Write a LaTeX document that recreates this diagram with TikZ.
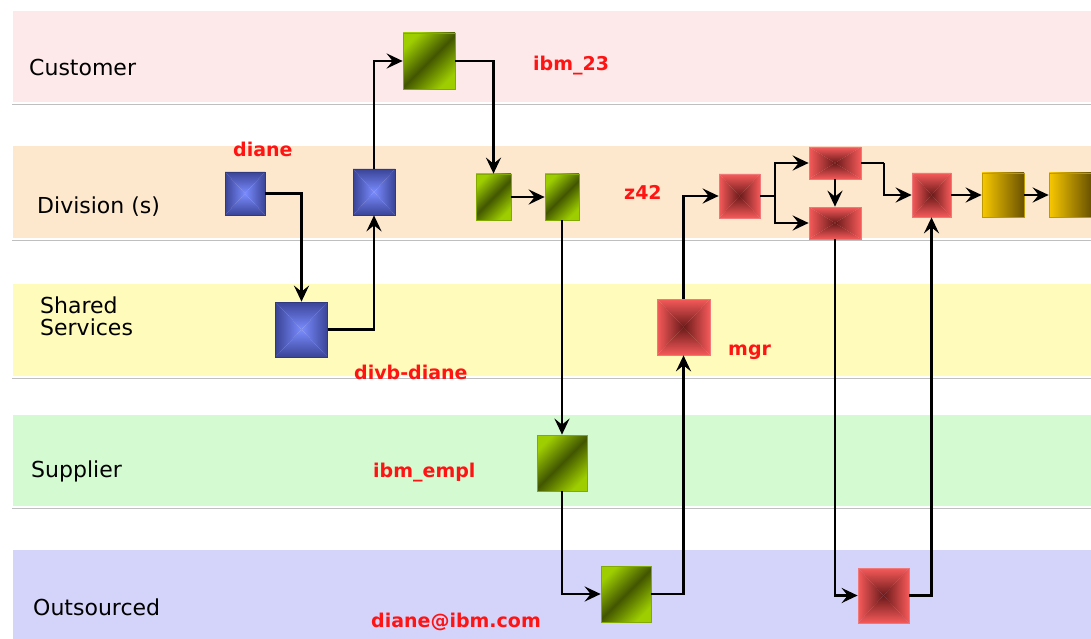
\documentclass[tikz,border=0pt]{standalone}
\usepackage{fontspec}
\setmainfont{DejaVu Sans}
\usetikzlibrary{arrows.meta,calc}
\definecolor{lcust}{RGB}{253,233,233}
\definecolor{ldiv}{RGB}{253,232,205}
\definecolor{lshar}{RGB}{255,252,187}
\definecolor{lsupp}{RGB}{212,250,210}
\definecolor{lout}{RGB}{212,212,250}
\definecolor{bin}{RGB}{122,140,255}
\definecolor{bout}{RGB}{58,68,150}
\definecolor{bbord}{RGB}{47,58,128}
\definecolor{rin}{RGB}{107,26,26}
\definecolor{rout}{RGB}{246,90,90}
\definecolor{rbord}{RGB}{240,120,120}
\definecolor{glt}{RGB}{158,206,0}
\definecolor{gdk}{RGB}{66,86,0}
\definecolor{gbord}{RGB}{130,170,0}
\definecolor{ylt}{RGB}{248,200,0}
\definecolor{ydk}{RGB}{106,82,0}
\definecolor{lblred}{RGB}{255,20,20}
\tikzset{
  lane/.style={fill=#1, draw=white, line width=1.2pt},
  laneedge/.style={draw=black!25, line width=0.8pt},
  lanelabel/.style={anchor=base west, inner sep=0pt, font=\fontsize{22}{21}\selectfont, align=left},
  redlabel/.style={anchor=base west, inner sep=0pt, text=lblred, font=\bfseries\fontsize{19}{20}\selectfont},
  pyr/.style 2 args={
    path picture={
      \coordinate (pc) at (path picture bounding box.center);
      \coordinate (psw) at (path picture bounding box.south west);
      \coordinate (pse) at (path picture bounding box.south east);
      \coordinate (pnw) at (path picture bounding box.north west);
      \coordinate (pne) at (path picture bounding box.north east);
      \shade[top color=#1, bottom color=#2] (psw) -- (pse) -- (pc) -- cycle;
      \shade[bottom color=#1, top color=#2] (pnw) -- (pne) -- (pc) -- cycle;
      \shade[right color=#1, left color=#2] (psw) -- (pnw) -- (pc) -- cycle;
      \shade[left color=#1, right color=#2] (pse) -- (pne) -- (pc) -- cycle;
    }},
  boxbase/.style={rectangle, inner sep=0pt, line width=0.7pt},
  bluebox/.style={boxbase, pyr={bin}{bout}, draw=bbord},
  redbox/.style={boxbase, pyr={rin}{rout}, draw=rbord},
  greenbox/.style={boxbase, draw=gbord, top color=glt, bottom color=glt, middle color=gdk, shading angle=45},
  goldbox/.style={boxbase, draw=ylt!60!ydk, left color=ylt, right color=ydk},
  conn/.style={line width=2.5pt, -{Stealth[length=16pt,width=15pt,inset=6pt]}},
  plain/.style={line width=2.5pt}
}
\begin{document}
\begin{tikzpicture}[x=1pt,y=-1pt]
\useasboundingbox (0,0) rectangle (1091,639);
\fill[white] (0,0) rectangle (1091,639);
% lanes
\path[lane=lcust] (12,10) rectangle (1100,103);
\path[laneedge] (12,104) -- (1100,104);
\path[lane=ldiv] (12,145) rectangle (1100,239);
\path[laneedge] (12,240) -- (1100,240);
\path[lane=lshar] (12,283) rectangle (1100,377);
\path[laneedge] (12,378) -- (1100,378);
\path[lane=lsupp] (12,414) rectangle (1100,507);
\path[laneedge] (12,508) -- (1100,508);
\path[lane=lout] (12,549) rectangle (1100,650);
% lane labels
\node[lanelabel] (tcust) at (29,76) {Customer};
\node[lanelabel] (tdiv) at (37,213) {Division (s)};
\node[lanelabel] (tshar1) at (40,313) {Shared};
\node[lanelabel] (tshar2) at (40,335) {Services};
\node[lanelabel] (tsupp) at (31,477) {Supplier};
\node[lanelabel] (tout) at (33,615) {Outsourced};
% red labels
\node[redlabel] (l1) at (533,71) {ibm\_23};
\node[redlabel] (l2) at (233,157) {diane};
\node[redlabel] (l3) at (624,200) {z42};
\node[redlabel] (l4) at (728,355) {mgr};
\node[redlabel] (l5) at (354,379) {divb-diane};
\node[redlabel] (l6) at (373,477) {ibm\_empl};
\node[redlabel] (l7) at (371,627) {diane@ibm.com};
% boxes
\node[bluebox, minimum width=40pt, minimum height=43pt] (b1) at (245,193.5) {};
\node[bluebox, minimum width=42pt, minimum height=46pt] (b2) at (374,192) {};
\node[bluebox, minimum width=52pt, minimum height=55pt] (b3) at (301.5,329.5) {};
\node[greenbox, minimum width=52pt, minimum height=56pt] (g1) at (429,61) {};
\node[greenbox, minimum width=35pt, minimum height=46pt] (g2) at (493.5,197) {};
\node[greenbox, minimum width=34pt, minimum height=46pt] (g3) at (562,197) {};
\node[greenbox, minimum width=50pt, minimum height=56pt] (g4) at (562,463) {};
\node[greenbox, minimum width=50pt, minimum height=56pt] (g5) at (626,594) {};
\node[redbox, minimum width=53pt, minimum height=56pt] (r1) at (683.5,327) {};
\node[redbox, minimum width=41pt, minimum height=44pt] (r2) at (739.5,196) {};
\node[redbox, minimum width=52pt, minimum height=32pt] (r3) at (835,163) {};
\node[redbox, minimum width=52pt, minimum height=32pt] (r4) at (835,223) {};
\node[redbox, minimum width=39pt, minimum height=44pt] (r5) at (931.5,195) {};
\node[redbox, minimum width=51pt, minimum height=55pt] (r6) at (883.5,595.5) {};
\node[goldbox, minimum width=42pt, minimum height=44pt] (y1) at (1003,195) {};
\node[goldbox, minimum width=42pt, minimum height=44pt] (y2) at (1070,195) {};
% connectors
\draw[conn] (b1.east) -| (b3.north);
\draw[conn] (b3.east) -| (b2.south);
\draw[conn] (b2.north) |- (g1.west);
\draw[conn] (g1.east) -| (g2.north);
\draw[conn] (g2.east) -- (g3.west);
\draw[conn] (g3.south) -- (g4.north);
\draw[conn] (g4.south) |- (g5.west);
\draw[conn] (g5.east) -| (r1.south);
\draw[conn] (r1.north) |- (r2.west);
\coordinate (br) at (775,196);
\draw[plain] (r2.east) -- (br);
\draw[conn] (br) |- (r3.west);
\draw[conn] (br) |- (r4.west);
\draw[conn] (r3.south) -- (r4.north);
\coordinate (br2) at (884,163);
\draw[plain] (r3.east) -- (br2);
\draw[conn] (br2) |- (r5.west);
\draw[conn] (r4.south) |- (r6.west);
\draw[conn] (r6.east) -| (r5.south);
\draw[conn] (r5.east) -- (y1.west);
\draw[conn] (y1.east) -- (y2.west);
\end{tikzpicture}
\end{document}
